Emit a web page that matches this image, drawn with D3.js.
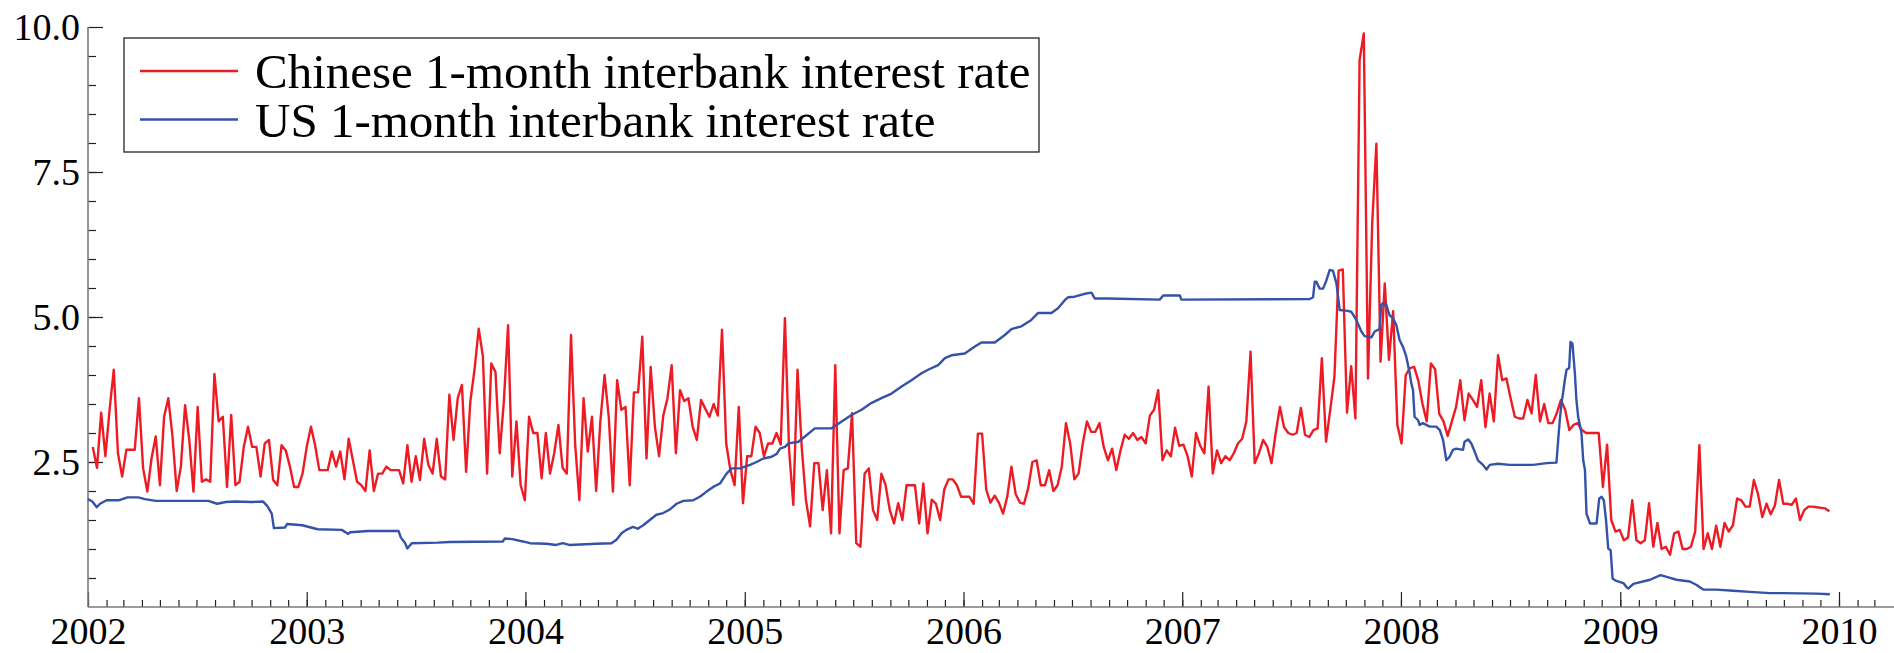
<!DOCTYPE html>
<html>
<head>
<meta charset="utf-8">
<script src="https://cdn.jsdelivr.net/npm/d3@7"></script>
<style>
  body { margin: 0; background: #fff; }
  text { font-family: "Liberation Serif", "Times New Roman", serif; fill: #000; }
</style>
</head>
<body>
<div id="chart"></div>
<script>
// Chinese 1-month interbank rate, weekly readings starting 2002-01-09
const cnRate = [
  2.76, 2.4, 3.35, 2.6, 3.4, 4.09, 2.65, 2.25, 2.71, 2.71, 2.71, 3.6, 2.39, 1.99, 2.56, 2.94, 2.1, 3.28, 3.6, 2.94,
  2.0, 2.42, 3.48, 2.88, 1.99, 3.45, 2.16, 2.2, 2.16, 4.02, 3.2, 3.28, 2.07, 3.31, 2.1, 2.16, 2.76, 3.11, 2.76, 2.76,
  2.25, 2.82, 2.88, 2.19, 2.1, 2.79, 2.7, 2.42, 2.07, 2.07, 2.3, 2.76, 3.11, 2.79, 2.36, 2.36, 2.36, 2.68, 2.42, 2.68,
  2.2, 2.9, 2.53, 2.16, 2.1, 2.0, 2.7, 2.0, 2.3, 2.3, 2.42, 2.36, 2.36, 2.36, 2.13, 2.79, 2.16, 2.6, 2.19, 2.9,
  2.45, 2.3, 2.9, 2.25, 2.2, 3.66, 2.88, 3.6, 3.83, 2.33, 3.54, 4.09, 4.8, 4.32, 2.3, 4.2, 4.05, 2.65, 3.55, 4.86,
  2.25, 3.2, 2.1, 1.84, 3.28, 3.0, 3.0, 2.22, 3.0, 2.3, 2.65, 3.14, 2.4, 2.3, 4.69, 2.8, 1.84, 3.6, 2.68, 3.28,
  2.0, 3.2, 4.0, 3.28, 1.99, 3.91, 3.4, 3.45, 2.1, 3.7, 3.7, 4.66, 2.56, 4.14, 3.11, 2.6, 3.3, 3.6, 4.17, 2.65,
  3.74, 3.55, 3.6, 3.11, 2.88, 3.57, 3.42, 3.28, 3.5, 3.3, 4.78, 2.82, 2.36, 2.1, 3.45, 1.79, 2.6, 2.6, 3.11, 3.0,
  2.6, 2.82, 2.82, 3.0, 2.8, 4.98, 2.7, 1.76, 4.09, 2.76, 1.85, 1.39, 2.48, 2.48, 1.67, 2.36, 1.27, 4.17, 1.27, 2.36,
  2.39, 3.34, 1.1, 1.04, 2.3, 2.39, 1.67, 1.5, 2.3, 2.1, 1.67, 1.44, 1.79, 1.5, 2.1, 2.1, 2.1, 1.44, 2.13, 1.27,
  1.85, 1.78, 1.5, 2.03, 2.2, 2.2, 2.1, 1.9, 1.9, 1.9, 1.78, 2.99, 2.99, 2.02, 1.8, 1.92, 1.8, 1.61, 1.9, 2.42,
  1.95, 1.8, 1.78, 2.05, 2.5, 2.53, 2.1, 2.1, 2.36, 2.0, 2.1, 2.42, 3.17, 2.82, 2.2, 2.3, 2.82, 3.2, 3.02, 3.02,
  3.17, 2.76, 2.53, 2.73, 2.36, 2.7, 2.97, 2.9, 3.0, 2.88, 2.93, 2.82, 3.3, 3.4, 3.74, 2.53, 2.7, 2.6, 3.09, 2.78,
  2.8, 2.6, 2.25, 3.0, 2.78, 2.65, 3.8, 2.3, 2.7, 2.48, 2.6, 2.53, 2.65, 2.82, 2.9, 3.2, 4.4, 2.48, 2.65, 2.88,
  2.76, 2.48, 3.0, 3.45, 3.1, 3.0, 2.97, 3.0, 3.43, 2.97, 2.93, 3.05, 3.08, 4.29, 2.85, 3.4, 3.97, 5.8, 5.82, 3.35,
  4.15, 3.25, 9.43, 9.89, 3.94, 6.61, 7.99, 4.23, 5.58, 4.26, 5.1, 3.14, 2.82, 4.0, 4.12, 4.14, 3.9, 3.5, 3.2, 4.2,
  4.1, 3.33, 3.2, 2.95, 3.2, 3.45, 3.91, 3.22, 3.68, 3.57, 3.45, 3.91, 3.1, 3.68, 3.2, 4.34, 3.91, 3.94, 3.6, 3.28,
  3.25, 3.25, 3.57, 3.34, 4.0, 3.2, 3.5, 3.17, 3.17, 3.34, 3.57, 3.4, 3.05, 3.14, 3.17, 3.05, 3.0, 3.0, 3.0, 3.0,
  2.07, 2.8, 1.5, 1.3, 1.33, 1.15, 1.2, 1.84, 1.15, 1.1, 1.15, 1.79, 1.04, 1.45, 1.0, 1.04, 0.9, 1.27, 1.3, 1.0,
  1.0, 1.04, 1.3, 2.79, 1.0, 1.27, 1.0, 1.4, 1.04, 1.45, 1.3, 1.41, 1.87, 1.84, 1.73, 1.73, 2.19, 1.94, 1.55, 1.78,
  1.6, 1.75, 2.19, 1.78, 1.78, 1.76, 1.87, 1.5, 1.67, 1.73, 1.73, 1.72, 1.71, 1.7, 1.65
];

// US 1-month interbank rate: decimal-year times and values
const usTime = [
  2002.00, 2002.02, 2002.04, 2002.055, 2002.085, 2002.14, 2002.18, 2002.23, 2002.26, 2002.31,
  2002.55, 2002.59, 2002.63, 2002.67, 2002.75, 2002.80, 2002.82, 2002.84, 2002.85, 2002.90,
  2002.91, 2002.98, 2003.05, 2003.16, 2003.19, 2003.20, 2003.28, 2003.42, 2003.43, 2003.45,
  2003.46, 2003.48, 2003.60, 2003.653, 2003.897, 2003.905, 2003.94, 2003.988, 2004.02, 2004.095,
  2004.14, 2004.17, 2004.20, 2004.323, 2004.392, 2004.415, 2004.438, 2004.46, 2004.49, 2004.512,
  2004.537, 2004.567, 2004.597, 2004.628, 2004.658, 2004.689, 2004.72, 2004.765, 2004.795, 2004.826,
  2004.856, 2004.887, 2004.917, 2004.94, 2004.978, 2005.024, 2005.054, 2005.085, 2005.123, 2005.146,
  2005.161, 2005.184, 2005.20, 2005.245, 2005.275, 2005.32, 2005.397, 2005.443, 2005.488, 2005.534,
  2005.58, 2005.625, 2005.671, 2005.717, 2005.762, 2005.808, 2005.838, 2005.884, 2005.915, 2005.945,
  2006.006, 2006.052, 2006.082, 2006.143, 2006.189, 2006.219, 2006.265, 2006.31, 2006.341, 2006.402,
  2006.432, 2006.463, 2006.478, 2006.508, 2006.554, 2006.585, 2006.60, 2006.66, 2006.897, 2006.913,
  2006.989, 2006.996, 2007.583, 2007.598, 2007.606, 2007.613, 2007.628, 2007.644, 2007.659, 2007.674,
  2007.689, 2007.705, 2007.72, 2007.75, 2007.773, 2007.796, 2007.819, 2007.834, 2007.865, 2007.88,
  2007.902, 2007.91, 2007.918, 2007.933, 2007.948, 2007.963, 2007.979, 2007.994, 2008.009, 2008.024,
  2008.04, 2008.047, 2008.055, 2008.062, 2008.078, 2008.085, 2008.10, 2008.131, 2008.161, 2008.177,
  2008.192, 2008.207, 2008.222, 2008.237, 2008.252, 2008.283, 2008.29, 2008.306, 2008.321, 2008.336,
  2008.351, 2008.374, 2008.39, 2008.405, 2008.443, 2008.496, 2008.603, 2008.664, 2008.709, 2008.717,
  2008.724, 2008.732, 2008.74, 2008.747, 2008.755, 2008.767, 2008.773, 2008.782, 2008.793, 2008.80,
  2008.808, 2008.823, 2008.831, 2008.839, 2008.846, 2008.862, 2008.892, 2008.904, 2008.915, 2008.925,
  2008.935, 2008.945, 2008.956, 2008.965, 2008.976, 2008.999, 2009.015, 2009.029, 2009.037, 2009.06,
  2009.136, 2009.184, 2009.212, 2009.257, 2009.318, 2009.349, 2009.379, 2009.44, 2009.516, 2009.592,
  2009.684, 2009.745, 2009.897, 2009.958
];
const usRate = [
  1.86, 1.82, 1.72, 1.78, 1.84, 1.84, 1.89, 1.89, 1.86, 1.83,
  1.83, 1.78, 1.81, 1.82, 1.81, 1.82, 1.74, 1.61, 1.36, 1.37,
  1.43, 1.41, 1.34, 1.33, 1.26, 1.29, 1.31, 1.31, 1.2, 1.1,
  1.01, 1.1, 1.11, 1.12, 1.13, 1.18, 1.17, 1.13, 1.10, 1.09,
  1.07, 1.10, 1.07, 1.09, 1.10, 1.16, 1.27, 1.33, 1.38, 1.35,
  1.41, 1.5, 1.59, 1.62, 1.68, 1.78, 1.83, 1.84, 1.9, 1.99,
  2.07, 2.13, 2.3, 2.39, 2.39, 2.45, 2.5, 2.56, 2.59, 2.64,
  2.73, 2.76, 2.82, 2.85, 2.94, 3.08, 3.08, 3.2, 3.31, 3.4,
  3.52, 3.6, 3.68, 3.8, 3.91, 4.03, 4.09, 4.17, 4.29, 4.34,
  4.37, 4.49, 4.56, 4.56, 4.69, 4.79, 4.84, 4.95, 5.07, 5.07,
  5.15, 5.29, 5.34, 5.35, 5.4, 5.42, 5.32, 5.32, 5.30, 5.37,
  5.37, 5.30, 5.31, 5.34, 5.61, 5.61, 5.49, 5.49, 5.63, 5.81,
  5.80, 5.58, 5.12, 5.11, 5.09, 4.95, 4.75, 4.67, 4.65, 4.75,
  4.79, 5.21, 5.24, 5.21, 5.03, 4.98, 4.86, 4.6, 4.49, 4.32,
  4.03, 3.86, 3.74, 3.28, 3.22, 3.14, 3.17, 3.11, 3.11, 3.05,
  2.88, 2.53, 2.59, 2.71, 2.73, 2.71, 2.85, 2.89, 2.82, 2.68,
  2.53, 2.45, 2.37, 2.45, 2.47, 2.45, 2.45, 2.48, 2.49, 2.88,
  3.22, 3.51, 3.71, 3.91, 4.09, 4.12, 4.57, 4.54, 4.03, 3.57,
  3.28, 3.0, 2.53, 2.36, 1.61, 1.44, 1.44, 1.87, 1.9, 1.84,
  1.5, 1.01, 0.98, 0.49, 0.46, 0.43, 0.41, 0.34, 0.32, 0.4,
  0.47, 0.55, 0.52, 0.47, 0.44, 0.38, 0.3, 0.3, 0.28, 0.26,
  0.24, 0.24, 0.23, 0.22
];

const yTickValues = [2.5, 5, 7.5, 10];
const yearTicks = [2002, 2003, 2004, 2005, 2006, 2007, 2008, 2009, 2010];
const seriesNames = ["Chinese 1-month interbank interest rate", "US 1-month interbank interest rate"];
const colors = ["#ed1c24", "#3452a8"];

const W = 1894, H = 653;

function yearToDate(t) {
  const yr = Math.floor(t);
  const a = Date.UTC(yr, 0, 1), b = Date.UTC(yr + 1, 0, 1);
  return new Date(a + (t - yr) * (b - a));
}

const cnData = cnRate.map((v, i) => ({ date: new Date(Date.UTC(2002, 0, 9 + 7 * i)), value: v }));
const usData = usTime.map((t, i) => ({ date: yearToDate(t), value: usRate[i] }));

const svg = d3.select("#chart").append("svg")
  .attr("width", W).attr("height", H);

const x = d3.scaleUtc()
  .domain([new Date(Date.UTC(2002, 0, 1)), new Date(Date.UTC(2010, 0, 1))])
  .range([88, 1839]);
const y = d3.scaleLinear().domain([0, 10]).range([607, 27]);

// minor month ticks on x
const months = d3.utcMonth.range(new Date(Date.UTC(2002, 0, 1)), new Date(Date.UTC(2010, 2, 2)));
svg.append("g")
  .attr("transform", "translate(0,607)")
  .call(d3.axisBottom(x).tickValues(months).tickSize(-7).tickFormat(""))
  .call(g => g.select(".domain").remove())
  .call(g => g.selectAll("line").attr("stroke", "#222").attr("stroke-width", 1.2));

// major year ticks + labels
svg.append("g")
  .attr("transform", "translate(0,607)")
  .call(d3.axisBottom(x)
    .tickValues(yearTicks.map(yr => new Date(Date.UTC(yr, 0, 1))))
    .tickSize(-15).tickPadding(10)
    .tickFormat(d3.utcFormat("%Y")))
  .call(g => g.select(".domain").remove())
  .call(g => g.selectAll("line").attr("stroke", "#222").attr("stroke-width", 1.2))
  .call(g => g.selectAll("text").attr("font-size", 38)
    .attr("font-family", "Liberation Serif, Times New Roman, serif"));

// y minor ticks
svg.append("g")
  .attr("transform", "translate(88,0)")
  .call(d3.axisLeft(y).tickValues(d3.range(0.5, 10, 0.5)).tickSize(-8).tickFormat(""))
  .call(g => g.select(".domain").remove())
  .call(g => g.selectAll("line").attr("stroke", "#222").attr("stroke-width", 1.2));

// y major ticks + labels
svg.append("g")
  .attr("transform", "translate(88,0)")
  .call(d3.axisLeft(y).tickValues(yTickValues).tickSize(-15).tickPadding(8)
    .tickFormat(d3.format(".1f")))
  .call(g => g.select(".domain").remove())
  .call(g => g.selectAll("line").attr("stroke", "#222").attr("stroke-width", 1.2))
  .call(g => g.selectAll("text").attr("font-size", 38)
    .attr("font-family", "Liberation Serif, Times New Roman, serif"));

// axis lines
svg.append("line").attr("x1", 88).attr("x2", 88).attr("y1", y(10)).attr("y2", y(0))
  .attr("stroke", "#7a7a7a").attr("stroke-width", 1.6);
svg.append("line").attr("x1", 88).attr("x2", W).attr("y1", y(0)).attr("y2", y(0))
  .attr("stroke", "#7a7a7a").attr("stroke-width", 1.6);

const line = d3.line().x(d => x(d.date)).y(d => y(d.value));

// red first, blue on top
svg.append("path").datum(cnData)
  .attr("fill", "none").attr("stroke", colors[0]).attr("stroke-width", 2.4)
  .attr("stroke-linejoin", "round").attr("d", line);

svg.append("path").datum(usData)
  .attr("fill", "none").attr("stroke", colors[1]).attr("stroke-width", 2.4)
  .attr("stroke-linejoin", "round").attr("d", line);

// legend
const legend = svg.append("g");
legend.append("rect")
  .attr("x", 124).attr("y", 38).attr("width", 915).attr("height", 114)
  .attr("fill", "#fff").attr("stroke", "#222").attr("stroke-width", 1.3);
seriesNames.forEach((name, i) => {
  const ly = 71 + i * 48.5;
  legend.append("line").attr("x1", 140).attr("x2", 238).attr("y1", ly).attr("y2", ly)
    .attr("stroke", colors[i]).attr("stroke-width", 2.5);
  legend.append("text").attr("x", 255).attr("y", ly + 17)
    .attr("font-size", 49).text(name);
});
</script>
</body>
</html>
